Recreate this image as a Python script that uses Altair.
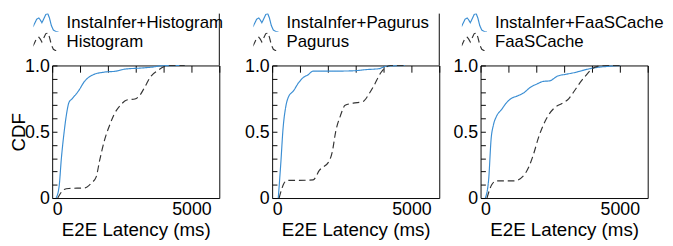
import altair as alt
import pandas as pd

# ---- data (x: E2E latency in ms, y: CDF) ----
ii_hist_x = [140, 250, 330, 430, 520, 600, 720, 950, 1160, 1470, 1870, 2280, 2620, 3140, 3600, 3950, 4760]
ii_hist_y = [0, 0.09, 0.3, 0.5, 0.64, 0.72, 0.75, 0.81, 0.88, 0.93, 0.95, 0.957, 0.973, 0.98, 0.988, 0.998, 1.0]
hist_x = [200, 430, 600, 1180, 1410, 1580, 1700, 1870, 2100, 2220, 2450, 2680, 2970, 3150, 3320, 3550, 3780, 4010, 4190, 4760]
hist_y = [0, 0.065, 0.072, 0.077, 0.113, 0.16, 0.28, 0.43, 0.57, 0.63, 0.70, 0.74, 0.747, 0.776, 0.836, 0.92, 0.96, 0.99, 1.0, 1.0]

ii_pag_x = [220, 310, 390, 490, 580, 770, 950, 1120, 1290, 1470, 2100, 2910, 3380, 3840, 4070, 4760]
ii_pag_y = [0, 0.26, 0.52, 0.69, 0.76, 0.81, 0.87, 0.91, 0.93, 0.957, 0.957, 0.96, 0.969, 0.976, 0.993, 1.0]
pag_x = [250, 430, 540, 950, 1470, 1700, 2050, 2160, 2280, 2450, 2620, 2910, 3260, 3490, 3660, 3900, 4130, 4240, 4760]
pag_y = [0, 0.113, 0.133, 0.133, 0.137, 0.21, 0.28, 0.35, 0.50, 0.62, 0.70, 0.716, 0.728, 0.79, 0.85, 0.945, 0.993, 1.0, 1.0]

ii_faas_x = [170, 290, 380, 460, 580, 750, 920, 1090, 1320, 1560, 1790, 2020, 2250, 2480, 2760, 3050, 3340, 3570, 3860, 4200, 4550, 5010]
ii_faas_y = [0, 0.14, 0.45, 0.55, 0.62, 0.667, 0.716, 0.75, 0.77, 0.795, 0.836, 0.86, 0.88, 0.884, 0.92, 0.933, 0.945, 0.957, 0.973, 0.986, 0.993, 1.0]
faas_x = [230, 400, 580, 1210, 1560, 1730, 1900, 2070, 2250, 2420, 2650, 2940, 3170, 3340, 3570, 3800, 3970, 4200, 4550, 5010]
faas_y = [0, 0.10, 0.13, 0.13, 0.173, 0.234, 0.33, 0.45, 0.55, 0.62, 0.68, 0.716, 0.75, 0.80, 0.87, 0.93, 0.969, 0.993, 1.0, 1.0]

baselines = ["Histogram", "Pagurus", "FaaSCache"]
x_ticks = [0, 1000, 2000, 3000, 4000, 5000, 6000]
y_ticks = [0, 0.1, 0.2, 0.3, 0.4, 0.5, 0.6, 0.7, 0.8, 0.9, 1.0]

BLUE = "#3b8ed3"
DARK = "#333333"
FONT = "Liberation Sans"
# double-peaked legend glyph
SYMBOL = ("M-1.88,0.62L-1.58,0L-1.32,-0.54L-1.01,-0.71L-0.79,-0.41L-0.56,0L-0.3,-0.54"
          "L0,-1.19L0.3,-1.36L0.56,-0.68L0.83,0.41L1.13,1.08L1.5,1.3L1.88,1.36")

W, H = 174, 138


def panel(name, ax, ay, bx, by, first, artifact):
    ours = "InstaInfer+" + name
    df = pd.DataFrame({
        "x": ax + bx,
        "y": ay + by,
        "method": [ours] * len(ax) + [name] * len(bx),
    })
    xaxis = alt.Axis(
        values=x_ticks, format="d",
        labelExpr="datum.value == 0 || datum.value == 5000 ? datum.label : ''",
        ticks=False, domain=False, grid=True, gridDash=[7, 3000],
        gridColor="black", gridOpacity=1, gridWidth=1,
        labelPadding=2, title="E2E Latency (ms)", titlePadding=3,
    )
    yaxis = alt.Axis(
        values=y_ticks,
        labelExpr="datum.value == 0 ? '0' : datum.value == 0.5 ? '0.5' : datum.value == 1 ? '1.0' : ''",
        ticks=False, domain=False, grid=True, gridDash=[5, 3000],
        gridColor="black", gridOpacity=1, gridWidth=1,
        labelPadding=3, title="CDF" if first else None, titlePadding=-4,
    )
    legend = alt.Legend(
        orient="none", legendX=-19.5, legendY=-54, title=None,
        symbolType=SYMBOL, symbolSize=200, symbolStrokeWidth=1.2, symbolOffset=4,
        symbolFillColor="transparent", labelFontSize=17.5, labelFont=FONT,
        labelColor="black", labelOffset=13, rowPadding=1, clipHeight=19,
        padding=0, labelLimit=400,
    )
    lines = alt.Chart(df).mark_line(strokeWidth=1.2, interpolate="monotone").encode(
        x=alt.X("x:Q", scale=alt.Scale(domain=[0, 6000], nice=False), axis=xaxis),
        y=alt.Y("y:Q", scale=alt.Scale(domain=[0, 1], nice=False), axis=yaxis),
        color=alt.Color("method:N", scale=alt.Scale(domain=[ours, name], range=[BLUE, DARK]), legend=legend),
        strokeDash=alt.StrokeDash("method:N", scale=alt.Scale(domain=[ours, name], range=[[1, 0], [7, 4]]), legend=legend),
    )
    ch = lines
    if artifact:
        rule = alt.Chart(pd.DataFrame({"a": [0]})).mark_rule(color="black", strokeWidth=1).encode(
            x=alt.value(W), y=alt.value(-54), y2=alt.value(0)
        )
        ch = alt.layer(lines, rule)
    return ch.properties(width=W, height=H)


p1 = panel(baselines[0], ii_hist_x, ii_hist_y, hist_x, hist_y, True, True)
p2 = panel(baselines[1], ii_pag_x, ii_pag_y, pag_x, pag_y, False, True)
p3 = panel(baselines[2], ii_faas_x, ii_faas_y, faas_x, faas_y, False, False)

inner = alt.hconcat(p2, p3, spacing=12).resolve_scale(color="independent", strokeDash="independent")
chart = (
    alt.hconcat(p1, inner, spacing=20)
    .resolve_scale(color="independent", strokeDash="independent")
    .configure_view(stroke="black", strokeWidth=1)
    .configure_axis(labelFont=FONT, titleFont=FONT, labelFontSize=18.5, titleFontSize=19.5,
                    labelColor="black", titleColor="black", titleFontWeight="normal")
    .configure_legend(labelFont=FONT)
    .properties(padding=0)
)

chart.save("out.html", embed_options={"renderer": "svg", "actions": False})
